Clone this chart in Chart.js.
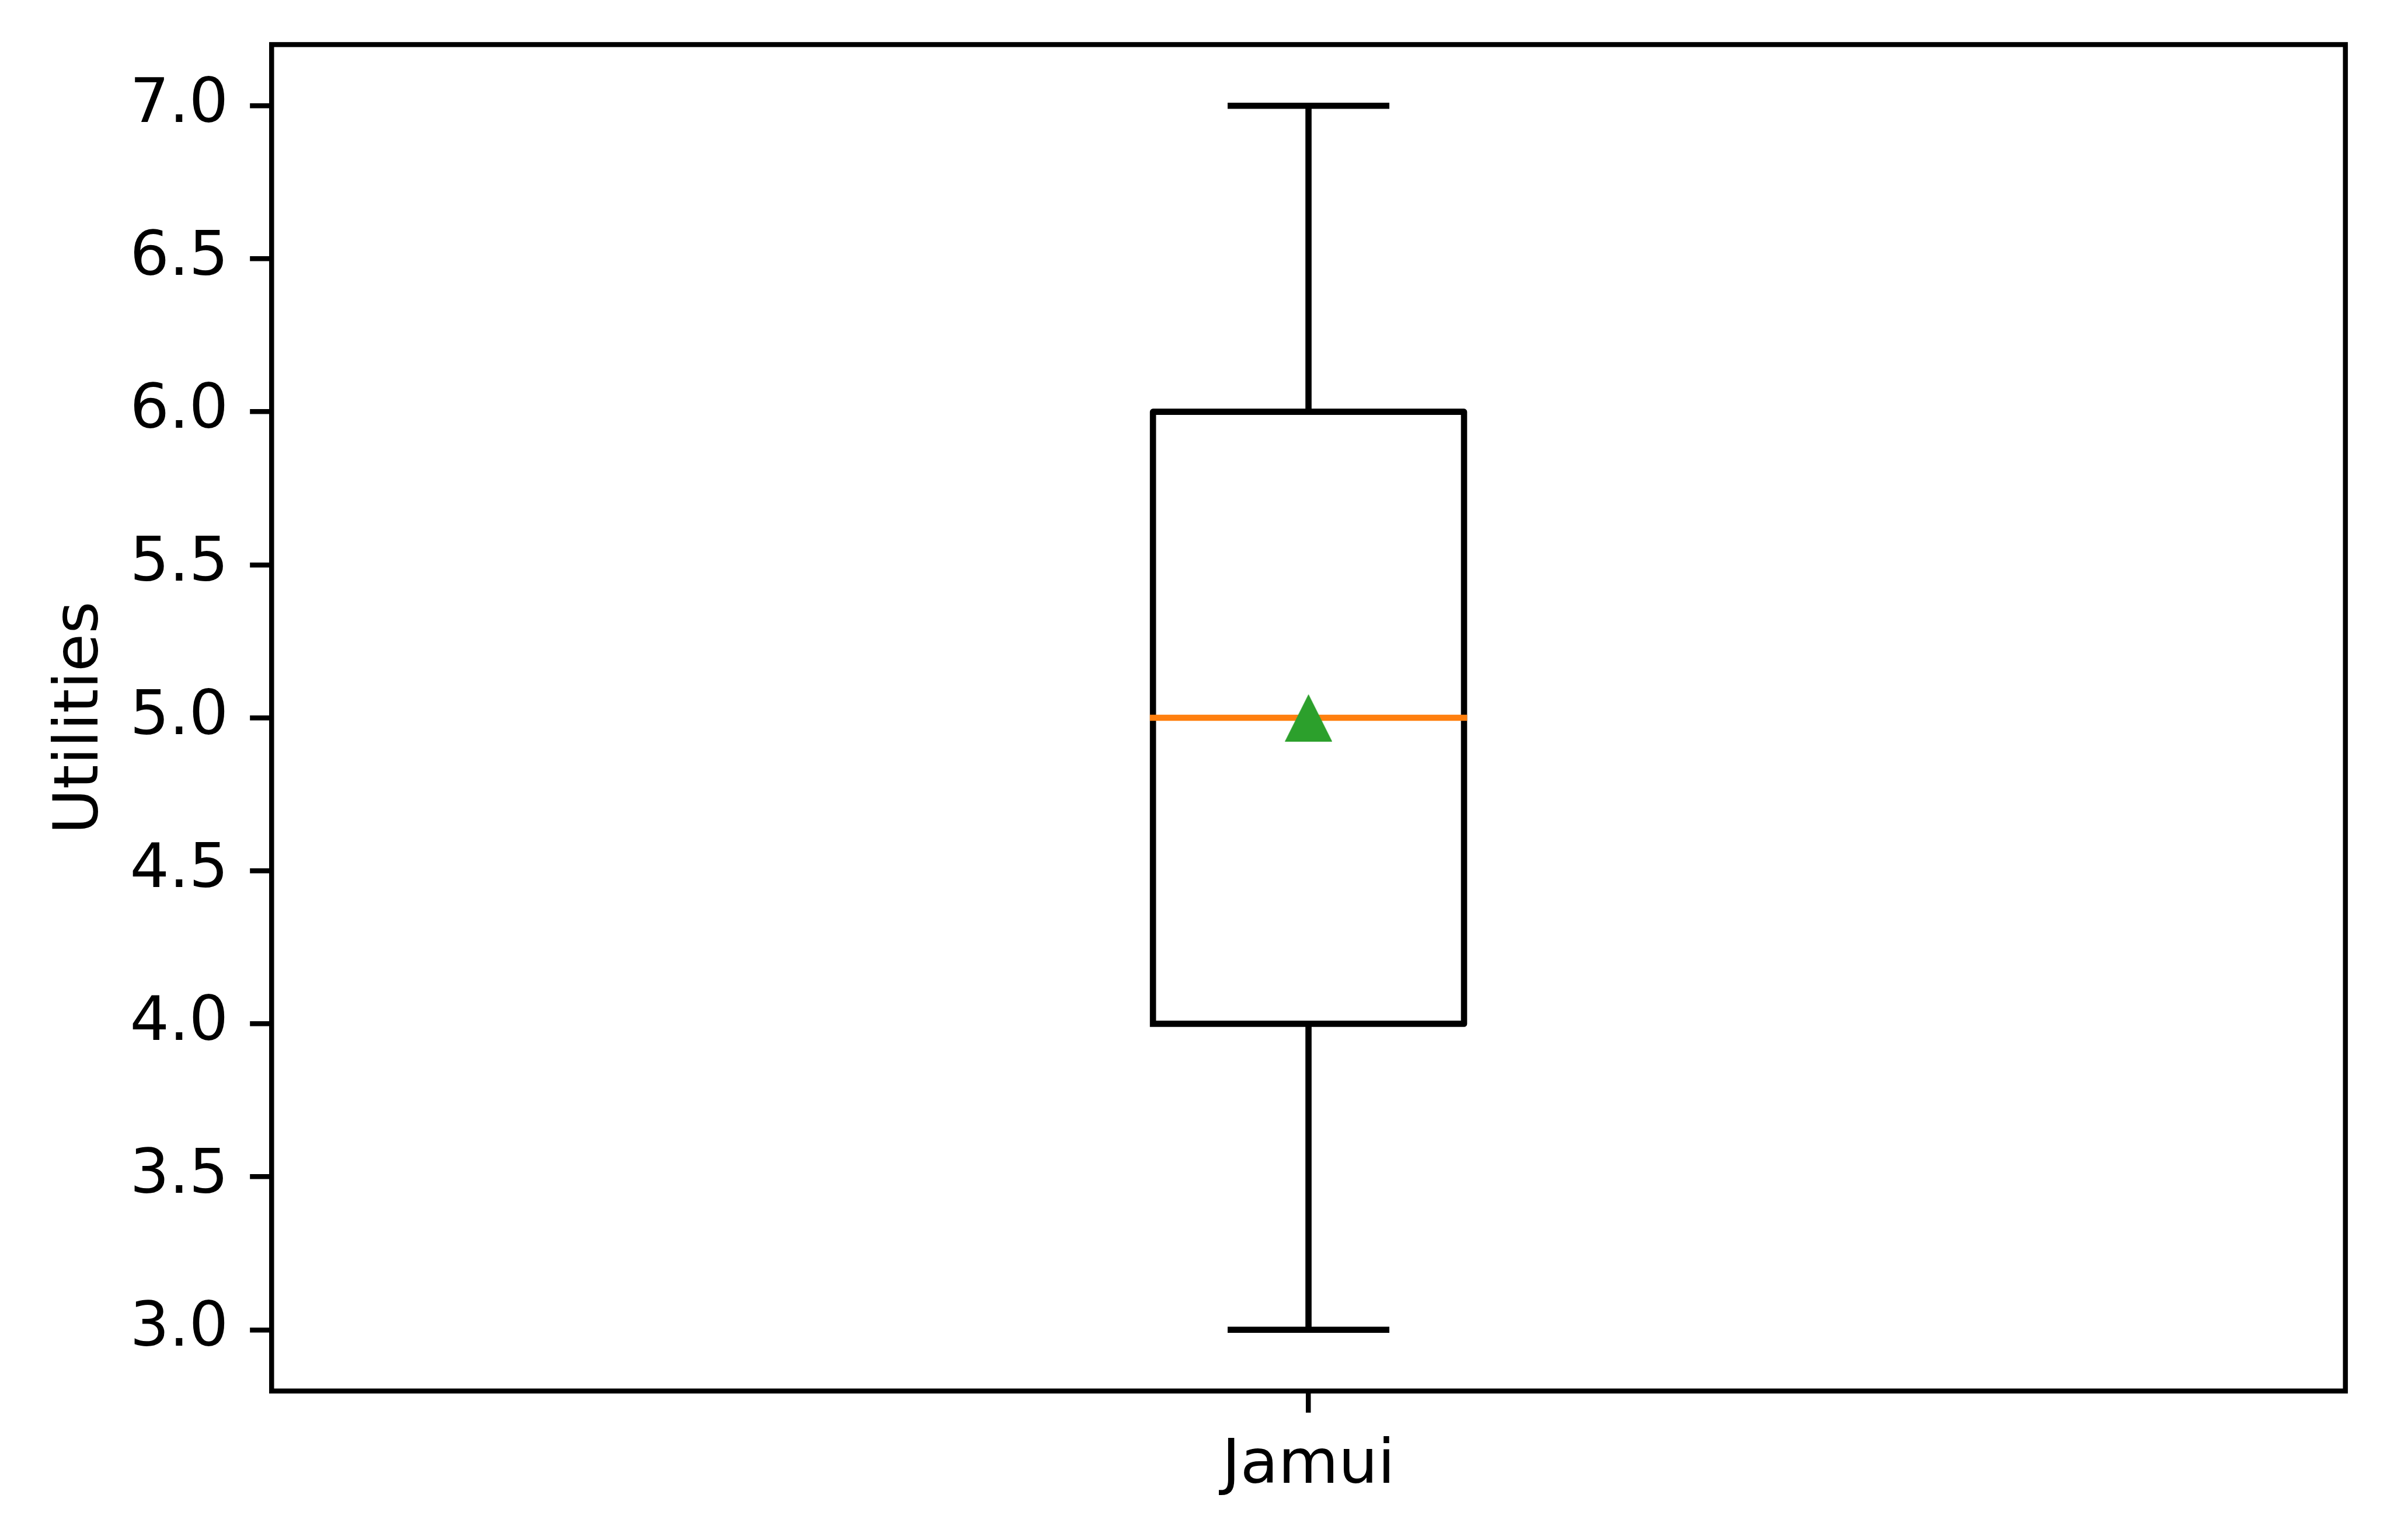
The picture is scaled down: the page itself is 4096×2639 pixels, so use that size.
<!DOCTYPE html>
<html>
<head>
<meta charset="utf-8">
<style>
  html, body { margin: 0; padding: 0; background: #ffffff; }
  #wrap { width: 4096px; height: 2639px; }
  canvas { display: block; }
</style>
<script src="https://cdn.jsdelivr.net/npm/chart.js@4/dist/chart.umd.min.js"></script>
</head>
<body>
<div id="wrap"><canvas id="c" width="4096" height="2639"></canvas></div>
<script>
// ---- data ----
const categories   = ['Jamui'];
const whiskerLow   = [3.0];
const q1Values     = [4.0];
const medianValues = [5.0];
const q3Values     = [6.0];
const whiskerHigh  = [7.0];
const meanValues   = [5.0];
const yTickValues  = [3.0, 3.5, 4.0, 4.5, 5.0, 5.5, 6.0, 6.5, 7.0];
const yLabel       = 'Utilities';

// ---- style constants ----
const S = 0.764;                 // scale of reference
const FONT = 'DejaVu Sans';
const FONT_PX = 106;             // 10pt @1000dpi * 0.764
const LW = 10.6;                 // 1.0pt
const SPINE_LW = 8.5;            // 0.8pt
const TICK_LEN = 37.1;           // 3.5pt
const BOX_W = 0.15;              // box width in data units
const CAP_W = BOX_W / 2;
const positions = categories.map((_, i) => i + 1);

// triangle marker for the mean (matplotlib '^')
const TRI = 81;
const tri = document.createElement('canvas');
tri.width = TRI; tri.height = TRI;
(function () {
  const g = tri.getContext('2d');
  g.fillStyle = '#2ca02c';
  g.beginPath();
  g.moveTo(TRI / 2, 0);
  g.lineTo(TRI, TRI);
  g.lineTo(0, TRI);
  g.closePath();
  g.fill();
})();

function lineDs(points, color, width, order) {
  return {
    type: 'line', data: points, borderColor: color, borderWidth: width,
    pointRadius: 0, fill: false, tension: 0, order: order,
    borderCapStyle: 'square', borderJoinStyle: 'round', clip: false
  };
}

const datasets = [];
positions.forEach((p, i) => {
  // mean marker
  datasets.push({
    type: 'scatter', data: [{ x: p, y: meanValues[i] }],
    pointStyle: tri, pointRadius: 40, order: 0, clip: false
  });
  // median
  datasets.push(lineDs([{ x: p - BOX_W / 2, y: medianValues[i] }, { x: p + BOX_W / 2, y: medianValues[i] }], '#ff7f0e', LW, 1));
  // box
  datasets.push(lineDs([
    { x: p - BOX_W / 2, y: q1Values[i] }, { x: p + BOX_W / 2, y: q1Values[i] },
    { x: p + BOX_W / 2, y: q3Values[i] }, { x: p - BOX_W / 2, y: q3Values[i] },
    { x: p - BOX_W / 2, y: q1Values[i] }
  ], '#000000', LW, 4));
  // whiskers
  datasets.push(lineDs([{ x: p, y: q1Values[i] }, { x: p, y: whiskerLow[i] }], '#000000', LW, 3));
  datasets.push(lineDs([{ x: p, y: q3Values[i] }, { x: p, y: whiskerHigh[i] }], '#000000', LW, 3));
  // caps
  datasets.push(lineDs([{ x: p - CAP_W / 2, y: whiskerLow[i] }, { x: p + CAP_W / 2, y: whiskerLow[i] }], '#000000', LW, 2));
  datasets.push(lineDs([{ x: p - CAP_W / 2, y: whiskerHigh[i] }, { x: p + CAP_W / 2, y: whiskerHigh[i] }], '#000000', LW, 2));
});

const frame = {
  id: 'frame',
  afterDatasetsDraw(chart) {
    const a = chart.chartArea, ctx = chart.ctx;
    ctx.save();
    ctx.strokeStyle = '#000';
    ctx.lineWidth = SPINE_LW;
    ctx.lineJoin = 'miter';
    ctx.strokeRect(a.left, a.top, a.right - a.left, a.bottom - a.top);
    ctx.restore();
  }
};

const LEFT = 609 * S, RIGHT = 5259 * S, TOP = 100 * S, BOTTOM = 3120 * S;

new Chart(document.getElementById('c'), {
  type: 'line',
  data: { datasets: datasets },
  options: {
    responsive: false,
    devicePixelRatio: 1,
    animation: false,
    events: [],
    layout: { padding: { left: 0, top: TOP, right: 4096 - RIGHT, bottom: 0 } },
    plugins: { legend: { display: false }, tooltip: { enabled: false } },
    scales: {
      x: {
        type: 'linear', min: 0.5, max: 1.5,
        border: { display: false },
        grid: { display: true, drawOnChartArea: false, drawTicks: true, tickLength: TICK_LEN,
                tickWidth: SPINE_LW, lineWidth: SPINE_LW, tickColor: '#000', color: '#000' },
        ticks: {
          color: '#000', font: { family: FONT, size: FONT_PX }, padding: 29,
          maxRotation: 0, autoSkip: false,
          callback: (v) => { const k = positions.indexOf(v); return k >= 0 ? categories[k] : ''; }
        },
        afterBuildTicks: (axis) => { axis.ticks = positions.map(v => ({ value: v })); },
        afterFit: (axis) => {
          axis.height = 2639 - BOTTOM;
          axis.paddingLeft = 0; axis.paddingRight = 0;
        }
      },
      y: {
        type: 'linear', min: 2.8, max: 7.2,
        border: { display: false },
        grid: { display: true, drawOnChartArea: false, drawTicks: true, tickLength: TICK_LEN,
                tickWidth: SPINE_LW, lineWidth: SPINE_LW, tickColor: '#000', color: '#000' },
        ticks: {
          color: '#000', font: { family: FONT, size: FONT_PX }, padding: 37,
          callback: (v) => Number(v).toFixed(1)
        },
        title: {
          display: true, text: yLabel, color: '#000',
          font: { family: FONT, size: FONT_PX }, padding: { top: 76, bottom: 0 }
        },
        afterBuildTicks: (axis) => { axis.ticks = yTickValues.map(v => ({ value: v })); },
        afterFit: (axis) => {
          axis.width = LEFT;
          axis.paddingTop = 0; axis.paddingBottom = 0;
        }
      }
    }
  },
  plugins: [frame]
});
</script>
</body>
</html>
